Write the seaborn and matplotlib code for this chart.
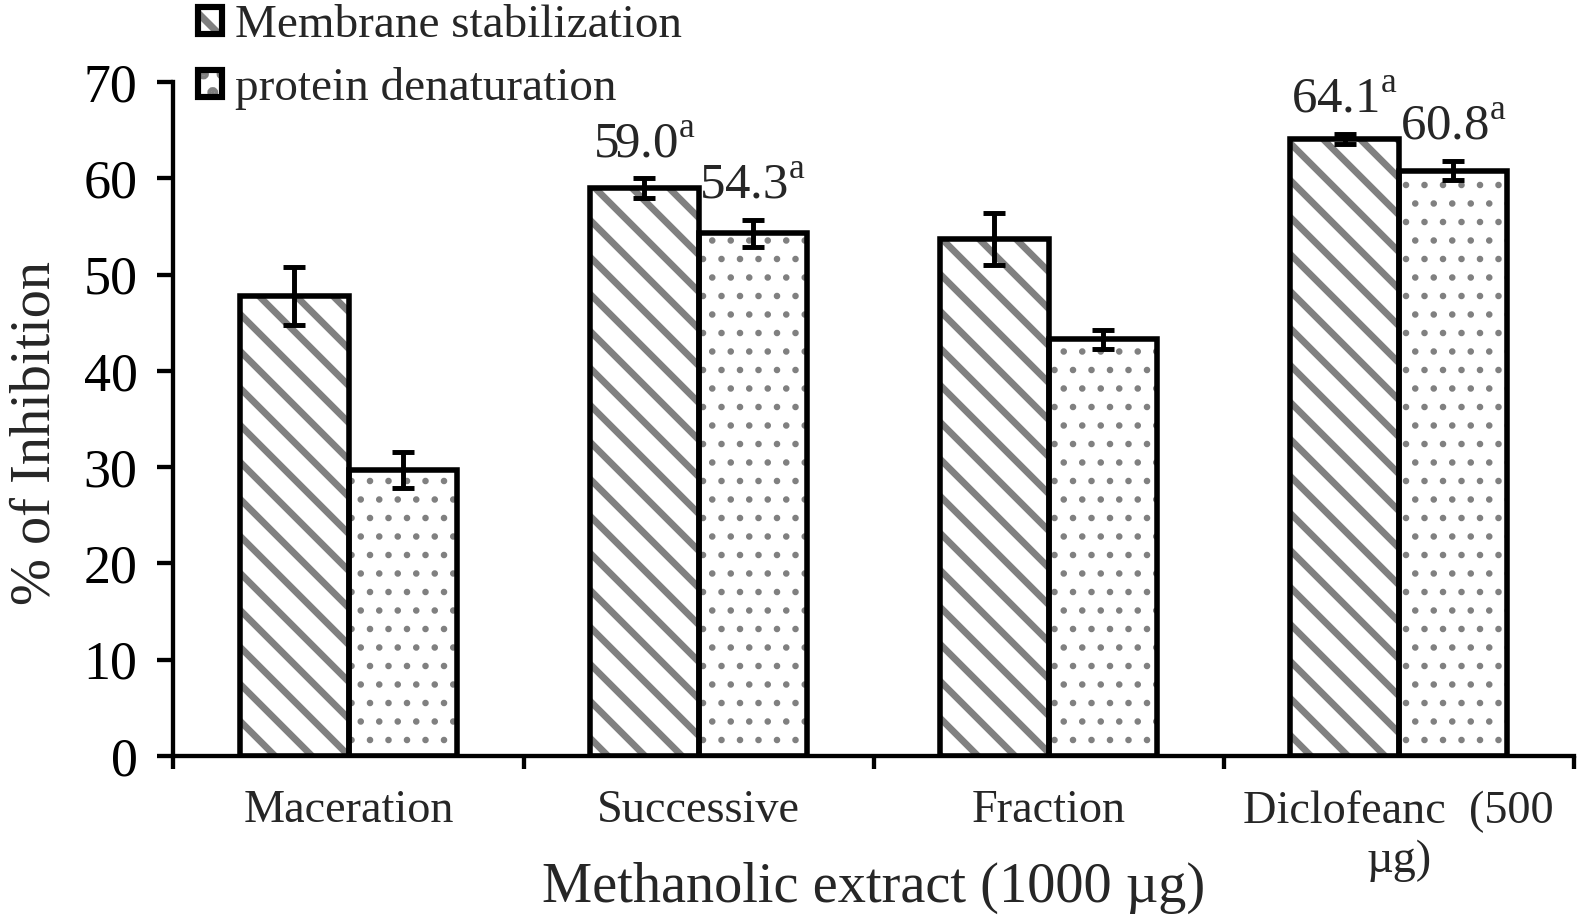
import matplotlib
matplotlib.use('Agg')

import matplotlib.pyplot as plt
from matplotlib.patches import Rectangle, Patch
import numpy as np
import pandas as pd
import seaborn as sns

# ------------------------------------------------------------
#     Data
# ------------------------------------------------------------

groups = ["Maceration", "Successive", "Fraction", "Diclofeanc  (500\n\u00b5g)"]
assays = ["Membrane stabilization", "protein denaturation"]

membrane = [47.8, 59.0, 53.7, 64.1]
membrane_err = [3.0, 1.0, 2.7, 0.5]
protein = [29.7, 54.3, 43.3, 60.8]
protein_err = [1.9, 1.4, 1.0, 1.0]

# labels shown above some bars ("" = no label)
membrane_lbl = ["", "59.0", "", "64.1"]
protein_lbl = ["", "54.3", "", "60.8"]

yticks = [0, 10, 20, 30, 40, 50, 60, 70]

# ------------------------------------------------------------
#     Plotting
# ------------------------------------------------------------

sns.set_style("ticks")
plt.rcParams['font.family'] = ['Liberation Serif', 'DejaVu Serif']
plt.rcParams['mathtext.fontset'] = 'custom'
plt.rcParams['mathtext.rm'] = 'Liberation Serif'
plt.rcParams['hatch.color'] = '#808080'
plt.rcParams['hatch.linewidth'] = 2.3

dpi = 222
fig = plt.figure(figsize=(1577 / dpi, 923 / dpi), dpi=dpi)
ax = fig.add_axes([0.110, 0.181, 0.888, 0.730])

df = pd.DataFrame({
    'group': groups * 2,
    'assay': [assays[0]] * len(groups) + [assays[1]] * len(groups),
    'value': membrane + protein,
})

sns.barplot(data=df, x='group', y='value', hue='assay', hue_order=assays,
            palette=['white', 'white'], edgecolor='#808080', linewidth=0,
            width=0.62, errorbar=None, legend=False, ax=ax)

hatches = ['\\\\', '..']
hatch_lw = [2.2, 0.9]
errs = [membrane_err, protein_err]
vals = [membrane, protein]
lbls = [membrane_lbl, protein_lbl]

bar_conts = list(ax.containers)
for k, cont in enumerate(bar_conts):
    xs = []
    for p in cont.patches:
        p.set_hatch(hatches[k])
        if hasattr(p, 'set_hatch_linewidth'):
            p.set_hatch_linewidth(hatch_lw[k])
        # black outline on top of the grey hatch
        ax.add_patch(Rectangle(p.get_xy(), p.get_width(), p.get_height(),
                               fill=False, edgecolor='black', linewidth=1.8,
                               zorder=3))
        xs.append(p.get_x() + p.get_width() / 2)
    ax.errorbar(xs, vals[k], yerr=errs[k], fmt='none', ecolor='black',
                elinewidth=1.6, capsize=3.6, capthick=1.6, zorder=4)
    for x, v, e, t in zip(xs, vals[k], errs[k], lbls[k]):
        if t:
            ax.annotate(t + r"$^{\mathrm{a}}$", (x, v + e), xytext=(0, 7),
                        textcoords='offset points', ha='center',
                        va='baseline', fontsize=16.5)

ax.set_ylim(0, 70)
ax.set_xlim(-0.5, len(groups) - 0.5)
ax.set_yticks(yticks)
ax.set_xticks(np.arange(len(groups) + 1) - 0.5, minor=True)

sns.despine(ax=ax)
for s in ['left', 'bottom']:
    ax.spines[s].set_linewidth(1.4)
    ax.spines[s].set_color('black')

ax.tick_params(axis='y', length=5.2, width=1.4, labelsize=17.5, pad=6.5,
               colors='black')
ax.tick_params(axis='x', which='major', length=0, labelsize=15, pad=11)
ax.tick_params(axis='x', which='minor', length=4.2, width=1.4,
               color='black')

ax.set_xlabel("Methanolic extract (1000 \u00b5g)", fontsize=18.3)
ax.set_ylabel("% of Inhibition", fontsize=18.3)
ax.xaxis.set_label_coords(0.5, -0.157)
ax.yaxis.set_label_coords(-0.08, 0.48)

# legend: grey hatch with a black square outline
handles = []
for k in range(2):
    inner = Patch(facecolor='white', edgecolor='#808080', linewidth=0,
                  hatch=hatches[k])
    outer = Patch(facecolor='none', edgecolor='black', linewidth=2.0)
    handles.append((inner, outer))
fig.legend(handles, assays, loc='upper left', bbox_to_anchor=(0.1255, 0.995),
           frameon=False, fontsize=15.3, borderpad=0, borderaxespad=0,
           handlelength=0.5, handleheight=0.5, handletextpad=0.28,
           labelspacing=0.42)

fig.savefig("out.png", dpi=dpi)
